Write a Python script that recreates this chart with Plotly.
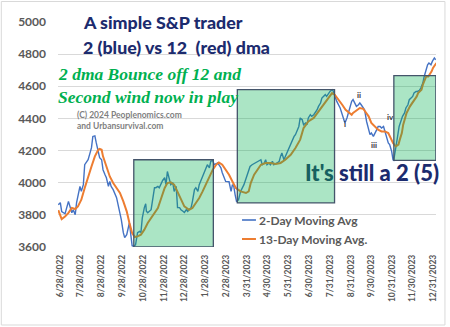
import plotly.graph_objects as go

# 2-day moving average of the S&P 500
blue_dates = [
    "2022-06-25", "2022-06-28", "2022-06-30", "2022-07-05", "2022-07-10", "2022-07-12", "2022-07-15",
    "2022-07-17", "2022-07-20", "2022-07-22", "2022-07-27", "2022-07-29", "2022-08-01", "2022-08-03",
    "2022-08-06", "2022-08-08", "2022-08-11", "2022-08-13", "2022-08-15", "2022-08-18", "2022-08-20",
    "2022-08-23", "2022-08-25", "2022-08-28", "2022-08-30", "2022-09-02", "2022-09-04", "2022-09-07",
    "2022-09-09", "2022-09-11", "2022-09-14", "2022-09-19", "2022-09-24", "2022-09-26", "2022-09-29",
    "2022-10-01", "2022-10-04", "2022-10-06", "2022-10-08", "2022-10-10", "2022-10-12", "2022-10-14",
    "2022-10-17", "2022-10-20", "2022-10-23", "2022-10-25", "2022-10-27", "2022-10-30", "2022-11-01",
    "2022-11-02", "2022-11-04", "2022-11-09", "2022-11-12", "2022-11-14", "2022-11-16", "2022-11-19",
    "2022-11-21", "2022-11-24", "2022-11-26", "2022-11-29", "2022-12-01", "2022-12-03", "2022-12-06",
    "2022-12-08", "2022-12-11", "2022-12-13", "2022-12-16", "2022-12-18", "2022-12-21", "2022-12-23",
    "2022-12-26", "2022-12-28", "2022-12-31", "2023-01-02", "2023-01-04", "2023-01-07", "2023-01-09",
    "2023-01-12", "2023-01-14", "2023-01-17", "2023-01-19", "2023-01-22", "2023-01-24", "2023-01-26",
    "2023-01-29", "2023-01-31", "2023-02-03", "2023-02-05", "2023-02-08", "2023-02-10", "2023-02-13",
    "2023-02-15", "2023-02-17", "2023-02-20", "2023-02-22", "2023-02-25", "2023-02-27", "2023-03-04",
    "2023-03-07", "2023-03-09", "2023-03-11", "2023-03-13", "2023-03-15", "2023-03-18", "2023-03-21",
    "2023-03-26", "2023-03-31", "2023-04-04", "2023-04-07", "2023-04-12", "2023-04-20", "2023-04-22",
    "2023-04-25", "2023-04-27", "2023-04-29", "2023-05-02", "2023-05-04", "2023-05-07", "2023-05-09",
    "2023-05-14", "2023-05-17", "2023-05-19", "2023-05-21", "2023-05-24", "2023-05-26", "2023-05-29",
    "2023-05-31", "2023-06-03", "2023-06-05", "2023-06-08", "2023-06-10", "2023-06-12", "2023-06-15",
    "2023-06-17", "2023-06-20", "2023-06-22", "2023-06-25", "2023-06-27", "2023-06-29", "2023-07-02",
    "2023-07-04", "2023-07-07", "2023-07-09", "2023-07-12", "2023-07-14", "2023-07-17", "2023-07-19",
    "2023-07-22", "2023-07-24", "2023-07-26", "2023-07-29", "2023-07-31", "2023-08-03", "2023-08-05",
    "2023-08-07", "2023-08-10", "2023-08-15", "2023-08-17", "2023-08-20", "2023-08-22", "2023-08-25",
    "2023-08-27", "2023-08-30", "2023-09-01", "2023-09-03", "2023-09-06", "2023-09-08", "2023-09-11",
    "2023-09-13", "2023-09-15", "2023-09-20", "2023-09-23", "2023-09-26", "2023-09-28", "2023-09-30",
    "2023-10-03", "2023-10-08", "2023-10-10", "2023-10-13", "2023-10-15", "2023-10-18", "2023-10-20",
    "2023-10-22", "2023-10-25", "2023-10-27", "2023-10-30", "2023-11-01", "2023-11-02", "2023-11-07",
    "2023-11-10", "2023-11-15", "2023-11-18", "2023-11-20", "2023-11-23", "2023-11-25", "2023-11-28",
    "2023-11-30", "2023-12-02", "2023-12-05", "2023-12-07", "2023-12-10", "2023-12-12", "2023-12-15",
    "2023-12-17", "2023-12-20", "2023-12-22", "2023-12-24", "2023-12-27", "2023-12-29", "2024-01-01",
    "2024-01-03",
]
blue_vals = [
    3863, 3876, 3821, 3807, 3884, 3853, 3813,
    3832, 3801, 3876, 3977, 3946, 3988, 4112,
    4133, 4143, 4187, 4218, 4288, 4292, 4249,
    4195, 4156, 4143, 4081, 4050, 4031, 3977,
    4008, 3977, 3957, 3907, 3822, 3770, 3689,
    3658, 3677, 3728, 3751, 3677, 3608, 3604,
    3614, 3689, 3697, 3691, 3782, 3845, 3869,
    3822, 3813, 3832, 3907, 3969, 3969, 3977,
    3969, 4000, 4014, 4031, 3988, 4070, 4019,
    3988, 4000, 3946, 3977, 3845, 3845, 3832,
    3822, 3815, 3832, 3822, 3832, 3845, 3884,
    3957, 3969, 3946, 3988, 4019, 4031, 4062,
    4081, 4112, 4093, 4133, 4139, 4112, 4118,
    4123, 4112, 4093, 4062, 4031, 4008, 4006,
    3946, 3988, 3977, 3925, 3884, 3894, 3946,
    3988, 4050, 4101, 4112, 4123, 4143, 4112,
    4123, 4143, 4112, 4123, 4112, 4133, 4112,
    4123, 4133, 4164, 4185, 4143, 4164, 4185,
    4205, 4247, 4257, 4288, 4299, 4319, 4350,
    4403, 4392, 4361, 4372, 4361, 4403, 4423,
    4413, 4423, 4434, 4454, 4475, 4496, 4527,
    4537, 4548, 4537, 4558, 4568, 4579, 4568,
    4541, 4506, 4465, 4434, 4392, 4372, 4403,
    4434, 4475, 4506, 4517, 4496, 4475, 4485,
    4496, 4485, 4454, 4381, 4340, 4299, 4309,
    4288, 4330, 4350, 4350, 4340, 4350, 4319,
    4278, 4247, 4237, 4195, 4143, 4140, 4268,
    4350, 4413, 4434, 4465, 4485, 4517, 4527,
    4537, 4558, 4568, 4568, 4574, 4589, 4620,
    4661, 4703, 4734, 4745, 4734, 4755, 4776,
    4765,
]

# 13-day moving average of the S&P 500
orange_dates = [
    "2022-06-25", "2022-06-30", "2022-07-05", "2022-07-10", "2022-07-15", "2022-07-20", "2022-07-24",
    "2022-07-29", "2022-08-03", "2022-08-08", "2022-08-13", "2022-08-18", "2022-08-23", "2022-08-25",
    "2022-08-28", "2022-08-30", "2022-09-04", "2022-09-09", "2022-09-14", "2022-09-19", "2022-09-24",
    "2022-09-29", "2022-10-04", "2022-10-08", "2022-10-12", "2022-10-16", "2022-10-20", "2022-10-25",
    "2022-10-30", "2022-11-04", "2022-11-09", "2022-11-14", "2022-11-19", "2022-11-24", "2022-11-29",
    "2022-12-03", "2022-12-08", "2022-12-13", "2022-12-18", "2022-12-23", "2022-12-28", "2023-01-04",
    "2023-01-09", "2023-01-14", "2023-01-19", "2023-01-24", "2023-01-29", "2023-02-03", "2023-02-08",
    "2023-02-13", "2023-02-17", "2023-02-22", "2023-02-27", "2023-03-04", "2023-03-09", "2023-03-14",
    "2023-03-21", "2023-03-29", "2023-04-02", "2023-04-05", "2023-04-10", "2023-04-15", "2023-04-20",
    "2023-04-27", "2023-05-04", "2023-05-12", "2023-05-19", "2023-05-26", "2023-06-03", "2023-06-10",
    "2023-06-17", "2023-06-22", "2023-06-29", "2023-07-07", "2023-07-14", "2023-07-22", "2023-07-29",
    "2023-08-03", "2023-08-07", "2023-08-13", "2023-08-18", "2023-08-23", "2023-08-28", "2023-09-01",
    "2023-09-03", "2023-09-08", "2023-09-13", "2023-09-18", "2023-09-21", "2023-09-26", "2023-09-30",
    "2023-10-05", "2023-10-10", "2023-10-15", "2023-10-20", "2023-10-25", "2023-10-29", "2023-11-01",
    "2023-11-05", "2023-11-09", "2023-11-11", "2023-11-14", "2023-11-16", "2023-11-19", "2023-11-21",
    "2023-11-26", "2023-12-01", "2023-12-06", "2023-12-08", "2023-12-10", "2023-12-13", "2023-12-15",
    "2023-12-18", "2023-12-20", "2023-12-23", "2023-12-25", "2023-12-28", "2023-12-30", "2024-01-02",
    "2024-01-04",
]
orange_vals = [
    3830, 3774, 3790, 3812, 3843, 3836, 3853,
    3894, 3967, 4039, 4101, 4164, 4205, 4210,
    4205, 4164, 4101, 4039, 3998, 3967, 3936,
    3884, 3822, 3749, 3687, 3662, 3666, 3677,
    3708, 3749, 3780, 3812, 3843, 3905, 3967,
    3998, 4002, 3988, 3946, 3894, 3853, 3832,
    3843, 3874, 3905, 3946, 3988, 4029, 4081,
    4112, 4126, 4112, 4081, 4050, 4008, 3967,
    3946, 3936, 3946, 3998, 4050, 4081, 4112,
    4123, 4123, 4116, 4123, 4143, 4174, 4216,
    4268, 4340, 4381, 4403, 4444, 4485, 4527,
    4558, 4548, 4517, 4485, 4454, 4434, 4423,
    4434, 4448, 4465, 4460, 4444, 4413, 4372,
    4350, 4330, 4319, 4319, 4309, 4278, 4247,
    4226, 4237, 4268, 4309, 4361, 4403, 4434,
    4475, 4506, 4537, 4558, 4568, 4579, 4610,
    4641, 4661, 4661, 4672, 4693, 4714, 4734,
    4745,
]

tick_dates = [
    "2022-06-28", "2022-07-28", "2022-08-28", "2022-09-28", "2022-10-28", "2022-11-28",
    "2022-12-28", "2023-01-28", "2023-02-28", "2023-03-31", "2023-04-30", "2023-05-31",
    "2023-06-30", "2023-07-31", "2023-08-31", "2023-09-30", "2023-10-31", "2023-11-30",
    "2023-12-31",
]
tick_labels = [
    "6/28/2022", "7/28/2022", "8/28/2022", "9/28/2022", "10/28/2022", "11/28/2022",
    "12/28/2022", "1/28/2023", "2/28/2023", "3/31/2023", "4/30/2023", "5/31/2023",
    "6/30/2023", "7/31/2023", "8/31/2023", "9/30/2023", "10/31/2023", "11/30/2023",
    "12/31/2023",
]
y_ticks = [3600, 3800, 4000, 4200, 4400, 4600, 4800, 5000]

# highlighted "2 over 12" windows
box_start = ["2022-10-14 10:00", "2023-03-16 05:00", "2023-11-02 05:00"]
box_end = ["2023-02-08 20:00", "2023-08-06 17:00", "2024-01-03 05:00"]
box_low = [3600, 3874, 4139]
box_high = [4143, 4579, 4666]

BLUE = "#4472c4"
ORANGE = "#ed7d31"
NAVY = "#1c2b6e"
GRAY = "#595959"

W, H = 450, 327
ML, MR, MT, MB = 58, 12, 22, 80
PW, PH = W - ML - MR, H - MT - MB


def px(x):
    return (x - ML) / PW


def py(y):
    return (MT + PH - y) / PH


fig = go.Figure()
fig.add_trace(go.Scatter(x=blue_dates, y=blue_vals, mode="lines", name="2-Day Moving Avg",
                         line=dict(color=BLUE, width=1.4), showlegend=False))
fig.add_trace(go.Scatter(x=orange_dates, y=orange_vals, mode="lines", name="13-Day Moving Avg.",
                         line=dict(color=ORANGE, width=2), showlegend=False))

shapes = []
for s, e, lo, hi in zip(box_start, box_end, box_low, box_high):
    shapes.append(dict(type="rect", xref="x", yref="y", x0=s, x1=e, y0=lo, y1=hi,
                       fillcolor="rgba(0,176,80,0.33)", line=dict(color="#44546a", width=1.3),
                       layer="above"))

# legend samples
shapes.append(dict(type="line", xref="paper", yref="paper", x0=px(243), x1=px(257),
                   y0=py(220), y1=py(220), line=dict(color=BLUE, width=1.6)))
shapes.append(dict(type="line", xref="paper", yref="paper", x0=px(243), x1=px(257),
                   y0=py(239), y1=py(239), line=dict(color=ORANGE, width=2)))
# chart border
shapes.append(dict(type="rect", xref="paper", yref="paper", x0=px(1), x1=px(447),
                   y0=py(325), y1=py(1.5), line=dict(color="#d9d9d9", width=1),
                   fillcolor="rgba(0,0,0,0)", layer="below"))

annotations = []


def label(text, x, y, size, color, family="Lato", weight="bold", style="normal", anchor="left"):
    annotations.append(dict(text=text, x=px(x), y=py(y), xref="paper", yref="paper",
                            xanchor=anchor, yanchor="middle", showarrow=False,
                            font=dict(family=family, size=size, color=color, weight=weight, style=style)))


label("A simple S&P trader", 81, 21.5, 17.8, NAVY, weight=900)
label("2 (blue) vs 12  (red) dma", 81, 47, 17.8, NAVY, weight=900)
label("2 dma Bounce off 12 and", 56, 74, 17.5, "#00b050", family="Liberation Serif", style="italic")
label("Second wind now in play", 56, 97, 17.5, "#00b050", family="Liberation Serif", style="italic")
label("(C) 2024 Peoplenomics.com", 75, 115, 8.5, "#7f7f7f")
label("and Urbansurvival.com", 75, 126, 8.5, "#7f7f7f")
label("<span style='color:#176060'>It's</span> still a 2 (5)", 304, 172, 22, NAVY, weight=900)
label("i", 347, 124, 8, "#3a3a3a", anchor="center")
label("ii", 361, 95, 8, "#3a3a3a", anchor="center")
label("iii", 376, 145, 8, "#3a3a3a", anchor="center")
label("iv", 392.5, 117, 8, "#3a3a3a", anchor="center")
label("2-Day Moving Avg", 258, 220, 12, GRAY)
label("13-Day Moving Avg.", 258, 239, 12, GRAY)

fig.update_layout(
    width=W, height=H,
    margin=dict(l=ML, r=MR, t=MT, b=MB),
    paper_bgcolor="white", plot_bgcolor="white",
    shapes=shapes, annotations=annotations,
    xaxis=dict(type="date", range=["2022-06-24 14:00", "2024-01-03 10:00"],
               tickmode="array", tickvals=tick_dates, ticktext=tick_labels, tickangle=-90,
               tickfont=dict(family="Lato", size=8.5, color=GRAY, weight="bold"),
               showgrid=False, zeroline=False, showline=False, ticks="",
               ticklabelstandoff=5),
    yaxis=dict(range=[3600, 5000], tickmode="array", tickvals=y_ticks,
               tickfont=dict(family="Lato", size=12, color=GRAY, weight="bold"),
               showgrid=True, gridcolor="#d9d9d9", gridwidth=1, zeroline=False,
               showline=False, ticks="", ticklabelstandoff=11),
)

fig.write_html("out.html", config={"displayModeBar": False})
